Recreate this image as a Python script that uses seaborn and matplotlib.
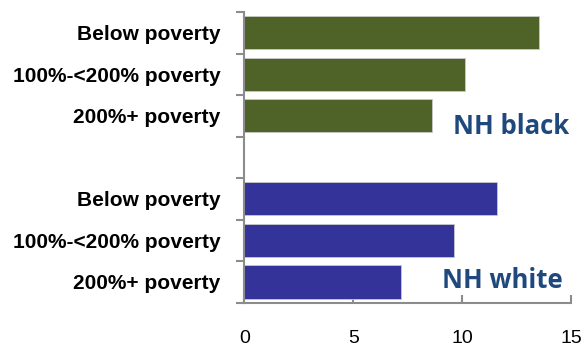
import matplotlib
matplotlib.use("Agg")
import matplotlib.pyplot as plt
import seaborn as sns
import pandas as pd

# Rates by poverty level for two race/ethnicity groups
levels = ["Below poverty", "100%-<200% poverty", "200%+ poverty"]
black_values = [13.5, 10.1, 8.6]
white_values = [11.6, 9.6, 7.2]
groups = ["NH black", "NH white"]
x_ticks = [0, 5, 10, 15]

colors = {"NH black": "#4F6228", "NH white": "#333399"}

rows = []
for grp, vals in zip(groups, [black_values, white_values]):
    for lvl, v in zip(levels, vals):
        rows.append({"row": f"{grp}|{lvl}", "level": lvl, "group": grp, "rate": v})
df = pd.DataFrame(rows)

# black rows, an empty spacer slot, then white rows
order = [f"NH black|{l}" for l in levels] + ["spacer"] + [f"NH white|{l}" for l in levels]
labels = levels + [""] + levels

sns.set_theme(style="white")
plt.rcParams["font.family"] = ["Liberation Sans", "DejaVu Sans"]

fig = plt.figure(figsize=(5.87, 3.47), dpi=100)
ax = fig.add_axes([0.4162, 0.1277, 0.5571, 0.8377])

sns.barplot(data=df, y="row", x="rate", hue="group", order=order,
            palette=colors, dodge=False, width=0.8, legend=False,
            saturation=1, edgecolor="#c8c8c8", linewidth=0.6, ax=ax)

ax.set_xlim(0, 15)
ax.set_ylim(6.5, -0.5)
ax.set_xticks(x_ticks)
ax.set_xticklabels([str(t) for t in x_ticks], fontsize=14, color="#000000")
ax.set_yticks(range(len(order)))
ax.set_yticklabels(labels, fontsize=15, fontweight="bold", color="#000000")
ax.set_yticks([i - 0.5 for i in range(len(order) + 1)], minor=True)
ax.tick_params(axis="y", which="major", length=0, pad=17)
ax.tick_params(axis="y", which="minor", left=True, length=6, width=1.5,
               color="#8c8c8c", direction="out")
ax.tick_params(axis="x", which="major", bottom=True, length=6, width=1.5,
               color="#8c8c8c", direction="in", pad=20)
ax.set_xlabel("")
ax.set_ylabel("")

for side in ["top", "right"]:
    ax.spines[side].set_visible(False)
for side in ["left", "bottom"]:
    ax.spines[side].set_color("#8c8c8c")
    ax.spines[side].set_linewidth(1.5)

ax.text(12.26, 2.25, "NH black", ha="center", va="center", fontsize=18.5,
        fontweight="bold", color="#1F497D", family=["Open Sans", "DejaVu Sans"])
ax.text(11.82, 5.96, "NH white", ha="center", va="center", fontsize=18.5,
        fontweight="bold", color="#1F497D", family=["Open Sans", "DejaVu Sans"])

fig.savefig("out.png", dpi=100)
